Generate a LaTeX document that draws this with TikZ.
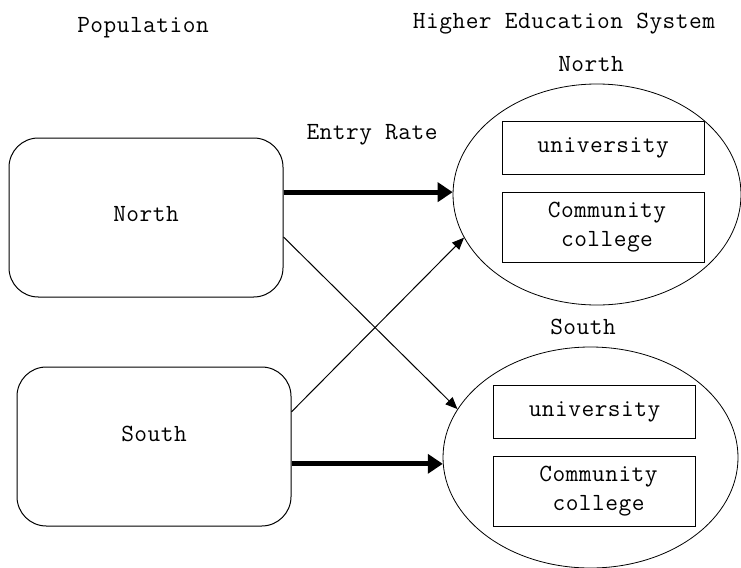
\documentclass[tikz,border=0pt]{standalone}
\usepackage{fontspec}
\setmonofont{Latin Modern Mono}[LetterSpace=2]
\usepackage{tikz}
\usetikzlibrary{arrows.meta, shapes.geometric}

\begin{document}
\begin{tikzpicture}[
    x=0.75pt, y=-0.75pt,
    font=\ttfamily\fontsize{18.5}{22}\selectfont,
    popbox/.style={rectangle, draw, rounded corners=22pt, line width=0.75pt, minimum width=205.5pt, minimum height=119.25pt, align=center},
    hes/.style={ellipse, draw, line width=0.6pt, inner sep=0pt, minimum width=216pt, minimum height=165.75pt},
    inst/.style={rectangle, draw, line width=0.75pt, minimum width=151.5pt, align=center},
    arrow/.style={-{Triangle[length=9pt, width=7.5pt]}, line width=0.75pt},
    bigarrow/.style={-{Triangle[length=11.25pt, width=14.25pt]}, line width=3.75pt}
]
\useasboundingbox (0,0) rectangle (741,567);

% Titles
\node (poptitle) at (143,28) {Population};
\node (hestitle) at (564,24) {Higher Education System};
\node (rate) at (372,135) {Entry Rate};

% Population blocks
\node[popbox, text depth=5pt] (northpop) at (146,217.5) {North};
\node[popbox, text depth=19.5pt] (southpop) at (154,446.5) {South};

% Higher education systems
\node[hes] (northhes) at (597,194.5) {};
\node (northlabel) at (591,64) {North};
\node[inst, minimum height=39.75pt] (northuni) at (603,147.5) {university};
\node[inst, minimum height=52.5pt] (northcc) at (603,227) {\hspace{6pt}Community\\\hspace{6pt}college};

\node[hes, minimum width=221.25pt] (southhes) at (590.5,457.5) {};
\node (southlabel) at (583,327) {South};
\node[inst, minimum height=39.75pt] (southuni) at (594.5,411.5) {university};
\node[inst, minimum height=52.5pt] (southcc) at (594.5,491) {\hspace{6pt}Community\\\hspace{6pt}college};

% Entry flows
\coordinate (nstart) at ([yshift=19pt]northpop.east);
\coordinate (sstart) at ([yshift=-13pt]southpop.east);
\draw[bigarrow] (nstart) -- (nstart -| northhes.179);
\draw[bigarrow] (sstart) -- (sstart -| southhes.182.5);
\draw[arrow] ([yshift=-14.6pt]northpop.east) -- (southhes.160);
\draw[arrow] ([yshift=26pt]southpop.east) -- (northhes.198);

\end{tikzpicture}
\end{document}
